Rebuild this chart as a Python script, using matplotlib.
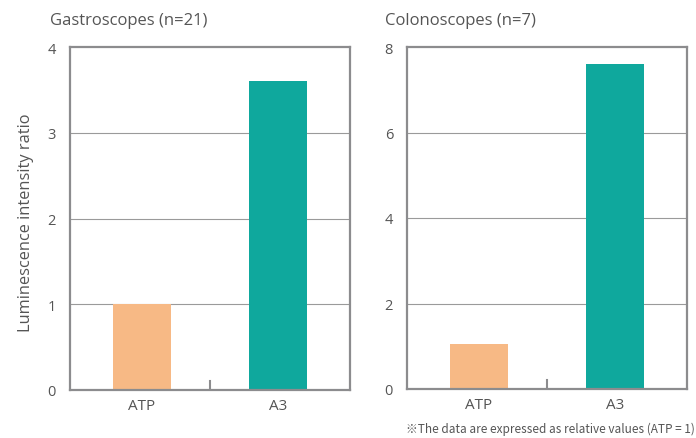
import matplotlib
matplotlib.use("Agg")
import matplotlib.pyplot as plt

plt.rcParams['font.family'] = ['Open Sans', 'DejaVu Sans']

categories = ['ATP', 'A3']
gastro_values = [1.0, 3.6]
colono_values = [1.05, 7.6]
titles = ['Gastroscopes (n=21)', 'Colonoscopes (n=7)']
gastro_ticks = [0, 1, 2, 3, 4]
colono_ticks = [0, 2, 4, 6, 8]

bar_colors = ['#F7B985', '#0FA89D']
spine_color = '#8C8C8E'
text_color = '#555555'

fig = plt.figure(figsize=(6.96, 4.39), dpi=100)
W, H = 696, 439
# axes boxes in pixels: left, top, right, bottom
boxes = [(70, 48, 350, 391), (407, 48, 687, 390)]
title_x = [50, 385]

panels = [(gastro_values, gastro_ticks), (colono_values, colono_ticks)]
for i, ((vals, ticks), box) in enumerate(zip(panels, boxes)):
    l, t, r, b = box
    ax = fig.add_axes([l / W, 1 - b / H, (r - l) / W, (b - t) / H])
    x = range(len(categories))
    ax.bar(x, vals, width=0.42, color=bar_colors, zorder=2)
    ax.set_xlim(-0.53, 1.53)
    ax.set_ylim(ticks[0], ticks[-1])
    ax.set_yticks(ticks)
    ax.set_yticklabels([str(v) for v in ticks], color=text_color, fontsize=10.5)
    ax.tick_params(axis='y', length=0, pad=10)
    ax.set_xticks(list(x))
    ax.set_xticklabels(categories, color=text_color, fontsize=11)
    ax.tick_params(axis='x', length=0, pad=6)
    ax.axvline(0.5, ymin=0, ymax=0.027, color=spine_color, lw=1.5, zorder=3)
    for yv in ticks[1:-1]:
        ax.axhline(yv, color='#9A9A9A', lw=0.8, zorder=1)
    for sp in ax.spines.values():
        sp.set_color(spine_color)
        sp.set_linewidth(1.6)
    fig.text(title_x[i] / W, 1 - 21 / H, titles[i], color=text_color,
             fontsize=12, ha='left', va='center')
    if i == 0:
        fig.text(26 / W, 1 - 223 / H, 'Luminescence intensity ratio', rotation=90,
                 color=text_color, fontsize=11.8, ha='center', va='center')

fig.text(695 / W, 1 - 429 / H, '\u203bThe data are expressed as relative values (ATP = 1)',
         color=text_color, fontsize=8.5, ha='right', va='center',
         family=['Noto Sans CJK JP', 'DejaVu Sans'])

fig.savefig('out.png', dpi=100)
